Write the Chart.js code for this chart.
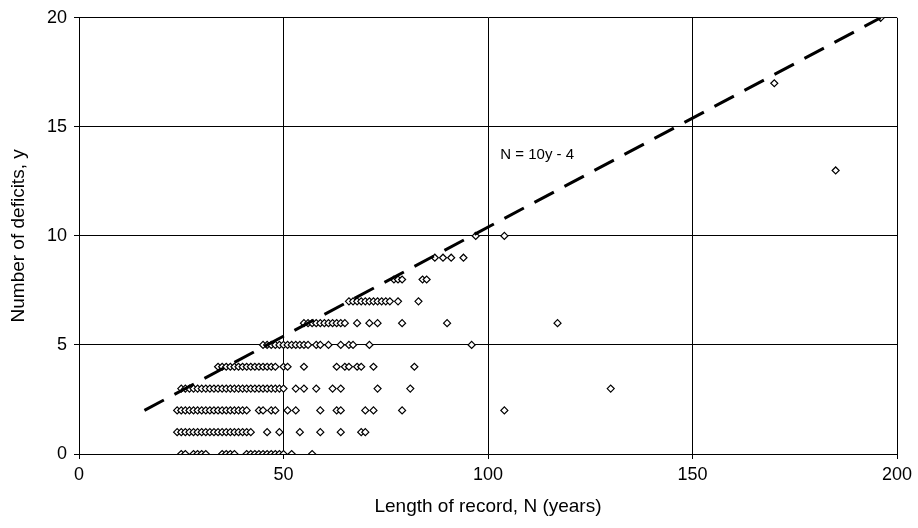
<!DOCTYPE html>
<html>
<head>
<meta charset="utf-8">
<script src="https://cdn.jsdelivr.net/npm/chart.js@4/dist/chart.umd.min.js"></script>
<style>
  html, body { margin: 0; padding: 0; background: #fff; }
  canvas { display: block; }
</style>
</head>
<body>
<canvas id="grafico" width="918" height="528"></canvas>
<script>
// -------------------- DADOS (record length N per deficit count y) --------------------
const xTicks = [0, 50, 100, 150, 200];
const yTicks = [0, 5, 10, 15, 20];

const deficits0 = [25, 26, 28, 29, 30, 31, 35, 36, 37, 38, 41, 42, 43, 44, 45, 46, 47, 48, 49, 50, 52, 57];
const deficits1 = [24, 25, 26, 27, 28, 29, 30, 31, 32, 33, 34, 35, 36, 37, 38, 39, 40, 41, 42, 46, 49, 54, 59, 64, 69, 70];
const deficits2 = [24, 25, 26, 27, 28, 29, 30, 31, 32, 33, 34, 35, 36, 37, 38, 39, 40, 41, 44, 45, 47, 48, 51, 53, 59, 63, 64, 70, 72, 79, 104];
const deficits3 = [25, 26, 27, 28, 29, 30, 31, 32, 33, 34, 35, 36, 37, 38, 39, 40, 41, 42, 43, 44, 45, 46, 47, 48, 49, 50, 53, 55, 58, 62, 64, 73, 81, 130];
const deficits4 = [34, 35, 36, 37, 38, 39, 40, 41, 42, 43, 44, 45, 46, 47, 48, 50, 51, 55, 63, 65, 66, 68, 69, 72, 82];
const deficits5 = [45, 46, 47, 48, 49, 50, 51, 52, 53, 54, 55, 56, 58, 59, 61, 64, 66, 67, 71, 96];
const deficits6 = [55, 56, 57, 58, 59, 60, 61, 62, 63, 64, 65, 68, 71, 73, 79, 90, 117];
const deficits7 = [66, 67, 68, 69, 70, 71, 72, 73, 74, 75, 76, 78, 83];
const deficits8 = [77, 78, 79, 84, 85];
const deficits9 = [87, 89, 91, 94];
const deficits10 = [97, 104];
const deficits13 = [185];
const deficits17 = [170];
const deficits20 = [196];

// N = 10y - 4  (envelope line end points)
const envelopeN = [16, 196];
const envelopeY = [2, 20];

const rows = [
  [0, deficits0], [1, deficits1], [2, deficits2], [3, deficits3], [4, deficits4],
  [5, deficits5], [6, deficits6], [7, deficits7], [8, deficits8], [9, deficits9],
  [10, deficits10], [13, deficits13], [17, deficits17], [20, deficits20]
];

const pontos = [];
rows.forEach(([y, lista]) => {
  lista.forEach(n => pontos.push({ x: n, y: y }));
});

const envelope = envelopeN.map((n, i) => ({ x: n, y: envelopeY[i] }));

// -------------------- PLUGINS --------------------
const fontFamily = '"Liberation Sans", Arial, sans-serif';

const rotulo = {
  id: 'rotulo',
  afterDatasetsDraw(chart) {
    const { ctx, scales } = chart;
    ctx.save();
    ctx.font = '15px ' + fontFamily;
    ctx.fillStyle = '#000';
    ctx.textAlign = 'left';
    ctx.textBaseline = 'middle';
    ctx.fillText('N = 10y - 4', scales.x.getPixelForValue(103), scales.y.getPixelForValue(13.7));
    ctx.restore();
  }
};

// -------------------- GRÁFICO --------------------
const ctx = document.getElementById('grafico').getContext('2d');

new Chart(ctx, {
  type: 'scatter',
  data: {
    datasets: [
      {
        type: 'line',
        label: 'N = 10y - 4',
        data: envelope,
        borderColor: '#000',
        borderWidth: 3,
        borderDash: [22, 12],
        pointRadius: 0,
        fill: false,
        order: 0
      },
      {
        label: 'Records',
        data: pontos,
        pointStyle: 'rectRot',
        pointRadius: 3.5,
        pointBorderWidth: 1.2,
        pointBorderColor: '#000',
        pointBackgroundColor: '#fff',
        order: 1
      }
    ]
  },
  options: {
    responsive: false,
    animation: false,
    devicePixelRatio: 1,
    layout: { padding: { left: 0, right: 21, top: 17, bottom: 0 } },
    plugins: {
      legend: { display: false },
      tooltip: { enabled: false }
    },
    scales: {
      x: {
        type: 'linear',
        min: 0,
        max: 200,
        afterBuildTicks: axis => { axis.ticks = xTicks.map(v => ({ value: v })); },
        afterFit: axis => { axis.height = 74; },
        ticks: { color: '#000', font: { size: 18, family: fontFamily }, padding: 5 },
        grid: { color: '#000', lineWidth: 1, tickLength: 5, drawTicks: true },
        border: { color: '#000', width: 1 },
        title: {
          display: true,
          text: 'Length of record, N (years)',
          color: '#000',
          font: { size: 19, family: fontFamily },
          padding: { top: 0, bottom: 10 }
        }
      },
      y: {
        type: 'linear',
        min: 0,
        max: 20,
        afterBuildTicks: axis => { axis.ticks = yTicks.map(v => ({ value: v })); },
        afterFit: axis => { axis.width = 79; },
        ticks: { color: '#000', font: { size: 18, family: fontFamily }, padding: 7 },
        grid: { color: '#000', lineWidth: 1, tickLength: 5, drawTicks: true },
        border: { color: '#000', width: 1 },
        title: {
          display: true,
          text: 'Number of deficits, y',
          color: '#000',
          font: { size: 19, family: fontFamily },
          padding: { top: 7, bottom: 0 }
        }
      }
    }
  },
  plugins: [rotulo]
});
</script>
</body>
</html>
